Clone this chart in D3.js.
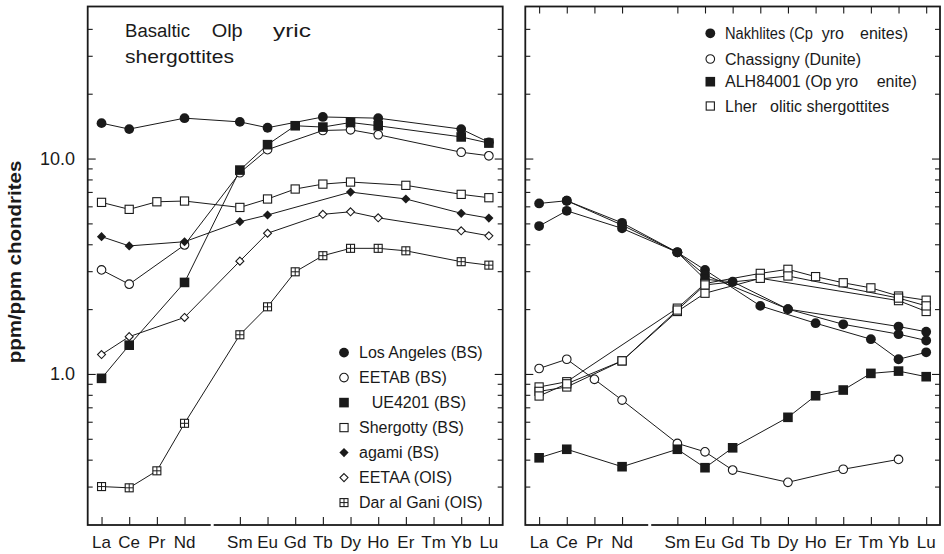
<!DOCTYPE html>
<html>
<head>
<meta charset="utf-8">
<script src="https://cdn.jsdelivr.net/npm/d3@7"></script>
<style>
  body { margin: 0; background: #fff; }
  text { font-family: "Liberation Sans", Arial, Helvetica, sans-serif; fill: #1a1a1a; }
</style>
</head>
<body>
<div id="chart"></div>
<script>
// ******************************** DATA ***************************************
// REE order, Pm kept as an empty slot (no tick, no label)
var elements = ["La", "Ce", "Pr", "Nd", "Pm", "Sm", "Eu", "Gd", "Tb", "Dy", "Ho", "Er", "Tm", "Yb", "Lu"];

// Left panel - basaltic / olivine-phyric shergottites (null = not measured)
var losAngeles = [14.6, 13.7, null, 15.4, null, 14.8, 13.9, null, 15.6, null, 15.4, null, null, 13.7, 11.9];
var eetab      = [3.04, 2.61, null, 3.97, null, 8.59, 11.0, null, 13.5, 13.6, 12.9, null, null, 10.7, 10.3];
var ue4201     = [0.954, 1.36, null, 2.66, null, 8.84, 11.6, 14.2, 14.0, 14.7, 14.2, null, null, 12.6, 11.8];
var shergotty  = [6.26, 5.81, 6.30, 6.35, null, 5.93, 6.49, 7.22, 7.61, 7.78, null, 7.51, null, 6.82, 6.58];
var zagami     = [4.34, 3.93, null, 4.11, null, 5.09, 5.47, null, null, 6.99, null, 6.49, null, 5.57, 5.29];
var eetaa      = [1.23, 1.49, null, 1.83, null, 3.34, 4.50, null, 5.51, 5.66, 5.31, null, null, 4.62, 4.38];
var darAlGani  = [0.300, 0.296, 0.355, 0.590, null, 1.52, 2.05, 2.98, 3.54, 3.83, 3.83, 3.73, null, 3.32, 3.20];

// Right panel
var nakhlite1  = [6.19, 6.37, null, 5.03, null, 3.67, 3.04, null, 2.07, null, 1.72, null, 1.45, 1.17, 1.26];
var nakhlite2  = [null, 6.37, null, 4.91, null, 3.67, 2.88, null, null, 2.00, null, 1.70, null, 1.53, 1.43];
var nakhlite3  = [4.86, 5.72, null, 4.74, null, 3.67, 2.75, 2.68, null, 2.00, null, null, null, 1.66, 1.57];
var chassigny  = [1.06, 1.17, 0.944, 0.756, null, 0.476, 0.435, 0.358, null, 0.314, null, 0.361, null, 0.401, null];
var alh84001   = [0.408, 0.447, null, 0.371, null, 0.447, 0.367, 0.454, null, 0.629, 0.792, 0.842, 1.006, 1.031, 0.971];
var lherz1     = [0.87, 0.92, null, null, null, 2.02, 2.63, null, 2.93, 3.06, 2.83, 2.65, 2.51, 2.30, 2.20];
var lherz2     = [0.83, 0.87, null, 1.15, null, 1.95, 2.37, null, 2.78, null, null, null, null, 2.19, 1.95];
var lherz3     = [0.79, 0.90, null, 1.15, null, 1.98, 2.59, null, null, 2.85, null, null, null, 2.25, 2.07];

// Axis ticks
var majorTicks = [1, 10];
var minorTicks = [0.3, 0.4, 0.5, 0.6, 0.7, 0.8, 0.9, 2, 3, 4, 5, 6, 7, 8, 9, 20, 30, 40];
var yTickLabels = ["1.0", "10.0"];

// *************************** CANVAS SET UP ***********************************
var ink = "#1a1a1a";
var svgWidth = 944, svgHeight = 554;
var frameTop = 6.5, frameBottom = 525;

var svg = d3.select("#chart").append("svg")
  .attr("width", svgWidth)
  .attr("height", svgHeight);

var y = d3.scaleLog().domain([0.2, 50]).range([524.5, 8]);

var panels = [
  {left: 87.7, right: 502.7, topTicks: false},
  {left: 525.3, right: 940, topTicks: true}
];
panels.forEach(function(p) {
  p.x = d3.scaleLinear().domain([-0.5, 14.5]).range([p.left, p.right]);
});

var tickIdx = d3.range(elements.length).filter(function(i) { return elements[i] !== "Pm"; });

// ****************************** MARKERS **************************************
function marker(g, type, cx, cy) {
  var m = g.append("g").attr("transform", "translate(" + cx + "," + cy + ")");
  if (type === "dot") {
    m.append("circle").attr("r", 4.9).attr("fill", ink);
  } else if (type === "circle") {
    m.append("circle").attr("r", 4.3).attr("fill", "#fff").attr("stroke", ink).attr("stroke-width", 1.1);
  } else if (type === "sq") {
    m.append("rect").attr("x", -4.8).attr("y", -4.8).attr("width", 9.6).attr("height", 9.6).attr("fill", ink);
  } else if (type === "square") {
    m.append("rect").attr("x", -4.1).attr("y", -4.1).attr("width", 8.2).attr("height", 8.2)
      .attr("fill", "#fff").attr("stroke", ink).attr("stroke-width", 1.1);
  } else if (type === "dia") {
    m.append("path").attr("d", "M0,-4.6L4.6,0L0,4.6L-4.6,0Z").attr("fill", ink);
  } else if (type === "diamond") {
    m.append("path").attr("d", "M0,-4L4,0L0,4L-4,0Z")
      .attr("fill", "#fff").attr("stroke", ink).attr("stroke-width", 1.1);
  } else if (type === "plussq") {
    m.append("rect").attr("x", -4).attr("y", -4).attr("width", 8).attr("height", 8)
      .attr("fill", "#fff").attr("stroke", ink).attr("stroke-width", 1.1);
    m.append("path").attr("d", "M0,-4V4M-4,0H4").attr("stroke", ink).attr("stroke-width", 1);
  }
}

// ****************************** SERIES ***************************************
var leftSeries = [
  {values: losAngeles, type: "dot"},
  {values: eetab, type: "circle"},
  {values: ue4201, type: "sq"},
  {values: shergotty, type: "square"},
  {values: zagami, type: "dia"},
  {values: eetaa, type: "diamond"},
  {values: darAlGani, type: "plussq"}
];
var rightSeries = [
  {values: nakhlite1, type: "dot"},
  {values: nakhlite2, type: "dot"},
  {values: nakhlite3, type: "dot"},
  {values: chassigny, type: "circle"},
  {values: alh84001, type: "sq"},
  {values: lherz1, type: "square"},
  {values: lherz2, type: "square"},
  {values: lherz3, type: "square"}
];

function drawPanel(p, series) {
  var g = svg.append("g");
  var x = p.x;

  // ticks (inside the frame)
  var left = g.append("g").attr("transform", "translate(" + p.left + ",0)");
  left.append("g").call(d3.axisLeft(y).tickValues(minorTicks).tickSize(-5).tickFormat(""));
  left.append("g").call(d3.axisLeft(y).tickValues(majorTicks).tickSize(-8).tickFormat(""));
  var right = g.append("g").attr("transform", "translate(" + p.right + ",0)");
  right.append("g").call(d3.axisRight(y).tickValues(minorTicks).tickSize(-5).tickFormat(""));
  right.append("g").call(d3.axisRight(y).tickValues(majorTicks).tickSize(-8).tickFormat(""));
  g.append("g").attr("transform", "translate(0," + frameBottom + ")")
    .call(d3.axisBottom(x).tickValues(tickIdx).tickSize(-8).tickFormat(""));
  if (p.topTicks) {
    g.append("g").attr("transform", "translate(0," + frameTop + ")")
      .call(d3.axisTop(x).tickValues(tickIdx).tickSize(-7).tickFormat(""));
  }
  g.selectAll(".domain").remove();
  g.selectAll(".tick line").attr("stroke", ink).attr("stroke-width", 1.1);

  // frame
  g.append("rect")
    .attr("x", p.left).attr("y", frameTop)
    .attr("width", p.right - p.left).attr("height", frameBottom - frameTop)
    .attr("fill", "none").attr("stroke", ink).attr("stroke-width", 1.8);
  // small break in the bottom line where Pm would be
  g.append("line")
    .attr("x1", x(4) - 1.5).attr("x2", x(4) + 1.5)
    .attr("y1", frameBottom).attr("y2", frameBottom)
    .attr("stroke", "#fff").attr("stroke-width", 2.4);

  // element labels
  g.selectAll(null).data(tickIdx).enter().append("text")
    .attr("x", function(i) { return x(i); })
    .attr("y", 548)
    .attr("text-anchor", "middle")
    .style("font-size", "17px")
    .text(function(i) { return elements[i]; });

  // lines first, markers on top
  var line = d3.line()
    .x(function(d) { return x(d.i); })
    .y(function(d) { return y(d.v); });
  series.forEach(function(s) {
    var pts = s.values.map(function(v, i) { return {i: i, v: v}; })
      .filter(function(d) { return d.v !== null; });
    s.pts = pts;
    g.append("path").datum(pts)
      .attr("d", line)
      .attr("fill", "none")
      .attr("stroke", ink)
      .attr("stroke-width", 1);
  });
  series.forEach(function(s) {
    s.pts.forEach(function(d) { marker(g, s.type, x(d.i), y(d.v)); });
  });
}

drawPanel(panels[0], leftSeries);
drawPanel(panels[1], rightSeries);

// ****************************** Y AXIS TEXT **********************************
svg.selectAll(null).data(majorTicks).enter().append("text")
  .attr("x", 75)
  .attr("y", function(d) { return y(d) + 6.5; })
  .attr("text-anchor", "end")
  .style("font-size", "18px")
  .text(function(d, i) { return yTickLabels[i]; });

svg.append("text")
  .attr("transform", "translate(20.5,262) rotate(-90) scale(1,0.85)")
  .attr("text-anchor", "middle")
  .style("font-size", "20.5px")
  .style("font-weight", "bold")
  .text("ppm/ppm chondrites");

// ****************************** TITLES / LEGENDS *****************************
function label(x0, y0, str, size, len) {
  var t = svg.append("text").attr("x", x0).attr("y", y0)
    .style("font-size", size + "px").text(str);
  if (len) t.attr("textLength", len).attr("lengthAdjust", "spacingAndGlyphs");
  return t;
}

// left title
label(125, 37.3, "Basaltic", 18, 65);
label(211.7, 37.3, "Ol\u00fe", 18, 31);
label(273, 37.3, "yric", 18, 38);
label(125, 62.7, "shergottites", 18, 109);

// left legend
var legendLeft = [
  {type: "dot", text: "Los Angeles (BS)", dx: 0},
  {type: "circle", text: "EETAB (BS)", dx: 0},
  {type: "sq", text: "UE4201 (BS)", dx: 12.7},
  {type: "square", text: "Shergotty (BS)", dx: 0},
  {type: "dia", text: "agami (BS)", dx: 0},
  {type: "diamond", text: "EETAA (OIS)", dx: 0},
  {type: "plussq", text: "Dar al Gani (OIS)", dx: 0}
];
legendLeft.forEach(function(d, i) {
  var cy = 352.6 + i * 25;
  marker(svg, d.type, 344, cy);
  label(359 + d.dx, cy + 5.7, d.text, 16);
});

// right legend: [x, text, fitted width]
var legendRightY = [33.3, 59, 81.7, 106];
var legendRight = [
  {type: "dot", parts: [[725, "Nakhlites (Cp", 88], [821.7, "yro"], [860, "enites)"]]},
  {type: "circle", parts: [[725, "Chassigny (Dunite)"]]},
  {type: "sq", parts: [[725, "ALH84001 (Op"], [836, "yro"], [876.7, "enite)"]]},
  {type: "square", parts: [[725, "Lher"], [770, "olitic shergottites"]]}
];
legendRight.forEach(function(d, i) {
  var cy = legendRightY[i];
  marker(svg, d.type, 710.3, cy);
  d.parts.forEach(function(pt) { label(pt[0], cy + 5.7, pt[1], 16, pt[2]); });
});
</script>
</body>
</html>
